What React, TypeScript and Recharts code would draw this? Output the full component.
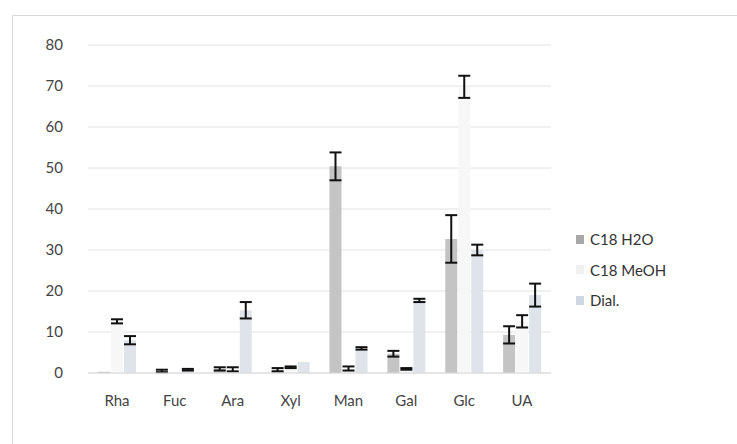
import { BarChart, Bar, XAxis, YAxis, CartesianGrid, ErrorBar } from "recharts";

// sugar names on the x axis
const sugars = ["Rha", "Fuc", "Ara", "Xyl", "Man", "Gal", "Glc", "UA"];

// values (mean, error)
const h2o = [0.3, 0.5, 1.0, 0.8, 50.4, 4.7, 32.7, 9.3];
const h2oErr = [0, 0.3, 0.4, 0.4, 3.4, 0.7, 5.8, 2.1];
const meoh = [12.6, 0, 0.9, 1.4, 1.1, 1.0, 69.8, 12.6];
const meohErr = [0.5, 0, 0.5, 0.2, 0.5, 0.2, 2.7, 1.5];
const dial = [8.0, 0.8, 15.3, 2.7, 6.0, 17.7, 30.0, 19.0];
const dialErr = [1.0, 0.2, 2.0, 0, 0.3, 0.4, 1.3, 2.8];

const yTicks = [0, 10, 20, 30, 40, 50, 60, 70, 80];

const series = [
    { key: "h2o", err: "h2oErr", name: "C18 H2O", color: "#c4c4c4", icon: "#a8a8a8" },
    { key: "meoh", err: "meohErr", name: "C18 MeOH", color: "#f7f7f8", icon: "#f0f0f0" },
    { key: "dial", err: "dialErr", name: "Dial.", color: "#dfe4eb", icon: "#cfd7e2" },
];

const FONT = "Lato, 'Open Sans', sans-serif";

// legend drawn as plain html next to the plot (recharts Legend eats plot space)
function LegendBox() {
    return (
        <div style={{ position: "absolute", left: 576, top: 224, fontFamily: FONT, fontSize: 15, color: "#333" }}>
            {series.map((s) => (
                <div key={s.key} style={{ display: "flex", alignItems: "center", height: 30.5 }}>
                    <span style={{ width: 8, height: 9, background: s.icon, marginRight: 6, display: "inline-block" }} />
                    <span>{s.name}</span>
                </div>
            ))}
        </div>
    );
}

export default function App() {
    const data = sugars.map((name, i) => ({
        name,
        h2o: h2o[i],
        h2oErr: h2oErr[i],
        meoh: meoh[i],
        meohErr: meohErr[i],
        dial: dial[i],
        dialErr: dialErr[i],
    }));

    return (
        <div style={{ position: "absolute", left: 0, top: 0, width: 737, height: 444, background: "#fff", overflow: "hidden" }}>
            {/* chart frame, runs off the right and bottom */}
            <div style={{ position: "absolute", left: 12, top: 15, width: 800, height: 500, border: "1px solid #d9d9d9" }} />
            <div style={{ position: "absolute", left: 0, top: 0 }}>
                <BarChart
                    width={737}
                    height={444}
                    data={data}
                    margin={{ top: 45, right: 186, bottom: 41, left: 0 }}
                    barSize={12}
                    barGap={1}
                >
                    <CartesianGrid vertical={false} stroke="#e2e2e2" />
                    <XAxis
                        dataKey="name"
                        height={30}
                        axisLine={{ stroke: "#d9d9d9" }}
                        tickLine={false}
                        tickSize={0}
                        tickMargin={22}
                        tick={{ fontFamily: FONT, fontSize: 15, fill: "#444" }}
                        interval={0}
                    />
                    <YAxis
                        width={88}
                        domain={[0, 80]}
                        ticks={yTicks}
                        axisLine={false}
                        tickLine={false}
                        tickSize={0}
                        tickMargin={25}
                        tick={{ fontFamily: FONT, fontSize: 15, fill: "#444" }}
                    />
                    {series.map((s) => (
                        <Bar key={s.key} dataKey={s.key} name={s.name} fill={s.color} isAnimationActive={false}>
                            <ErrorBar dataKey={s.err} width={6} stroke="#111" strokeWidth={2} direction="y" />
                        </Bar>
                    ))}
                </BarChart>
            </div>
            <LegendBox />
        </div>
    );
}
